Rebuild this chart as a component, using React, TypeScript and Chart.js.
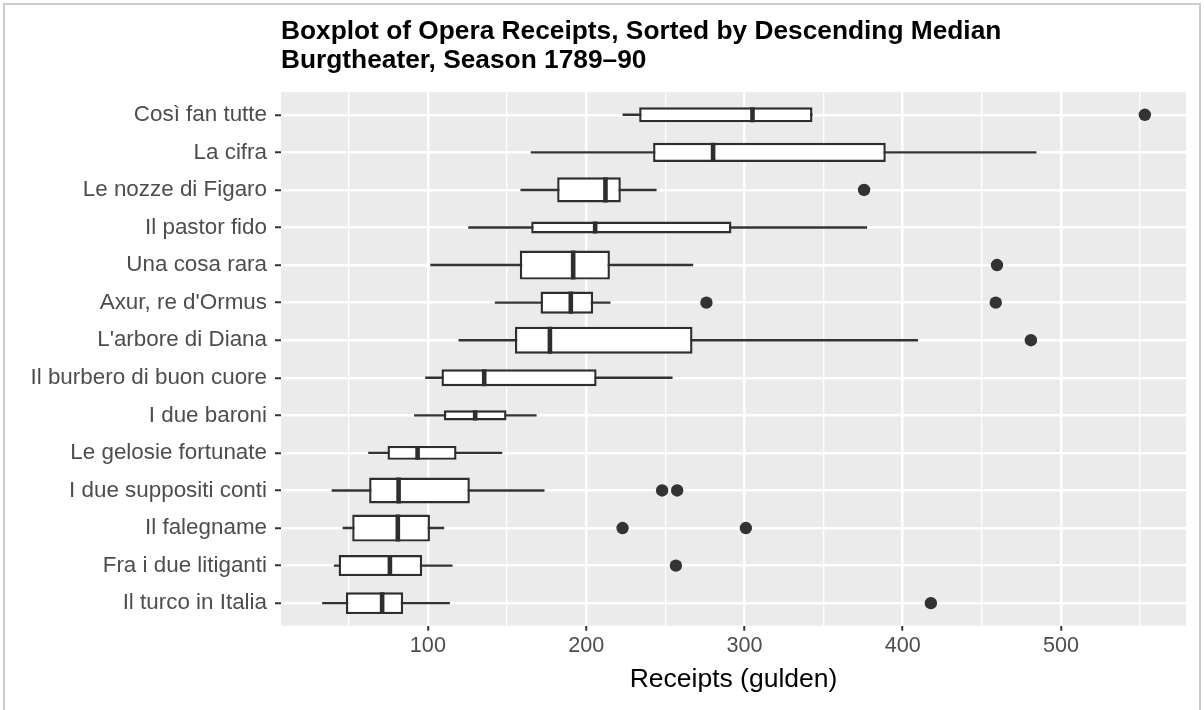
import React, { useEffect, useRef } from "react";
import { Chart, registerables } from "chart.js";

Chart.register(...registerables);

const operas = [
  "Così fan tutte",
  "La cifra",
  "Le nozze di Figaro",
  "Il pastor fido",
  "Una cosa rara",
  "Axur, re d'Ormus",
  "L'arbore di Diana",
  "Il burbero di buon cuore",
  "I due baroni",
  "Le gelosie fortunate",
  "I due suppositi conti",
  "Il falegname",
  "Fra i due litiganti",
  "Il turco in Italia",
];
const whiskerLow = [223, 165, 158.5, 125.5, 101.5, 142.3, 119.4, 98.3, 91.3, 62.3, 39.2, 46.1, 40.6, 33.2];
const q1 = [233.5, 242.3, 181.7, 165.3, 158.1, 171.2, 155, 108.6, 110.1, 74.5, 62.9, 52.2, 43.6, 48.2];
const median = [305.1, 280.2, 212.2, 205.7, 191.8, 190.3, 177.1, 135.6, 129.9, 93.5, 81.5, 81, 76, 71.1];
const q3 = [343, 389.3, 221.9, 291.8, 215, 204.4, 267.2, 206.6, 149.7, 118.1, 126.5, 101.3, 96.4, 84.4];
const whiskerHigh = [343, 484.5, 244.5, 377.5, 267.6, 215.4, 409.7, 254.6, 168.7, 147, 173.7, 110.3, 115.6, 113.9];
const outliers: number[][] = [
  [553], [], [375.6], [], [459.6], [276, 458.8], [481], [], [], [], [248, 257.5], [223, 300.9], [256.7], [417.8],
];
// relative box thickness (varwidth, ~ sqrt of number of performances)
const boxWidth = [0.4, 0.51, 0.67, 0.32, 0.77, 0.59, 0.72, 0.45, 0.27, 0.37, 0.69, 0.72, 0.56, 0.58];
const majorTicks = [100, 200, 300, 400, 500];
const minorTicks = [50, 150, 250, 350, 450, 550];

const titleLines = ["Boxplot of Opera Receipts, Sorted by Descending Median", "Burgtheater, Season 1789–90"];
const xTitle = "Receipts (gulden)";

const FONT = "'Liberation Sans', Arial, Helvetica, sans-serif";
const INK = "#2e2e2e";

const panelBg = {
  id: "panelBg",
  beforeDraw(chart: any) {
    const { ctx, chartArea: a } = chart;
    ctx.save();
    ctx.fillStyle = "#ebebeb";
    ctx.fillRect(a.left, a.top, a.right - a.left, a.bottom - a.top);
    ctx.restore();
  },
};

export default function App() {
  const ref = useRef<HTMLCanvasElement | null>(null);

  useEffect(() => {
    document.body.style.margin = "0";
    const canvas = ref.current;
    if (!canvas) return;

    const boxDatasets = operas.map((name, i) => ({
      type: "bar" as const,
      label: name,
      data: [{ x: [q1[i], q3[i]], y: i }],
      grouped: false,
      categoryPercentage: 1,
      barPercentage: boxWidth[i],
      backgroundColor: "#ffffff",
      borderColor: INK,
      borderWidth: 2.4,
      borderSkipped: false,
      inflateAmount: 0,
      order: 1,
    }));

    const whiskers = {
      type: "bar" as const,
      label: "whiskers",
      data: operas.map((_, i) => ({ x: [whiskerLow[i], whiskerHigh[i]], y: i })),
      grouped: false,
      categoryPercentage: 1,
      barPercentage: 1,
      maxBarThickness: 2.4,
      backgroundColor: "#333333",
      borderWidth: 0,
      inflateAmount: 0,
      order: 2,
    };

    // median bars: vertical line spanning the box height (band size * box width)
    const medians = {
      type: "scatter" as const,
      label: "median",
      data: operas.map((_, i) => ({ x: median[i], y: i })),
      pointStyle: "line",
      rotation: 90,
      pointRotation: 90,
      pointRadius: (ctx: any) => {
        const ys = ctx.chart.scales.y;
        const band = Math.abs(ys.getPixelForValue(1) - ys.getPixelForValue(0));
        const idx = ctx.raw ? ctx.raw.y : ctx.dataIndex;
        return (band * boxWidth[idx]) / 2;
      },
      pointBorderWidth: 4.6,
      pointBorderColor: INK,
      pointBackgroundColor: INK,
      borderColor: INK,
      showLine: false,
      order: 0,
    };

    const points = {
      type: "scatter" as const,
      label: "outliers",
      data: outliers.flatMap((vals, i) => vals.map((v) => ({ x: v, y: i }))),
      pointRadius: 6.2,
      pointBackgroundColor: "#333333",
      pointBorderWidth: 0,
      backgroundColor: "#333333",
      borderWidth: 0,
      showLine: false,
      order: 0,
    };

    const chart = new Chart(canvas, {
      type: "bar",
      data: { datasets: [...boxDatasets, whiskers, medians, points] as any },
      plugins: [panelBg],
      options: {
        indexAxis: "y",
        responsive: false,
        animation: false,
        layout: { padding: { left: 0, right: 18, top: 0, bottom: 0 } },
        plugins: {
          legend: { display: false },
          tooltip: { enabled: false },
          title: {
            display: true,
            text: titleLines,
            align: "start",
            fullSize: false,
            color: "#000000",
            font: { family: FONT, size: 26.3, weight: "bold", lineHeight: 1.1 },
            padding: { top: 17.5, bottom: 16.9 },
          },
        },
        scales: {
          x: {
            type: "linear",
            position: "bottom",
            min: 7.2,
            max: 579,
            bounds: "data",
            offset: false,
            afterBuildTicks: (s: any) => {
              s.ticks = [...minorTicks, ...majorTicks].sort((a, b) => a - b).map((v) => ({ value: v }));
            },
            afterFit: (s: any) => {
              s.height = 84.3;
            },
            ticks: {
              autoSkip: false,
              maxRotation: 0,
              padding: 2,
              color: "#4d4d4d",
              font: { family: FONT, size: 21.6 },
              callback: (v: any) => (majorTicks.includes(Number(v)) ? String(v) : ""),
            },
            grid: {
              offset: false,
              color: "#ffffff",
              lineWidth: (ctx: any) => (ctx.tick && majorTicks.includes(ctx.tick.value) ? 2.5 : 1.3),
              tickColor: (ctx: any) => (ctx.tick && majorTicks.includes(ctx.tick.value) ? "#333333" : "rgba(0,0,0,0)"),
              tickLength: 5,
              tickWidth: 2,
            },
            border: { display: false },
            title: {
              display: true,
              text: xTitle,
              color: "#000000",
              font: { family: FONT, size: 26.5, lineHeight: 1.2 },
              padding: { top: 0, bottom: 14.2 },
            },
          },
          y: {
            type: "linear",
            position: "left",
            min: -0.6,
            max: 13.6,
            reverse: true,
            bounds: "data",
            offset: false,
            afterBuildTicks: (s: any) => {
              s.ticks = operas.map((_, i) => ({ value: i }));
            },
            afterFit: (s: any) => {
              s.width = 281;
            },
            ticks: {
              autoSkip: false,
              padding: 8,
              color: "#4d4d4d",
              font: { family: FONT, size: 22.4 },
              callback: (v: any) => operas[Number(v)],
            },
            grid: {
              offset: false,
              color: "#ffffff",
              lineWidth: 2.5,
              tickColor: "#333333",
              tickLength: 6,
              tickWidth: 2,
            },
            border: { display: false },
          },
        },
      } as any,
    });

    return () => {
      chart.destroy();
    };
  }, []);

  return (
    <div style={{ position: "relative", width: 1204, height: 710, background: "#ffffff" }}>
      <canvas ref={ref} width={1204} height={710} style={{ display: "block", width: 1204, height: 710 }} />
      <div
        style={{
          position: "absolute",
          left: 3,
          top: 3,
          width: 1194,
          height: 707,
          borderLeft: "2px solid #cccccc",
          borderTop: "2px solid #cccccc",
          borderRight: "2px solid #cccccc",
          pointerEvents: "none",
        }}
      />
    </div>
  );
}
